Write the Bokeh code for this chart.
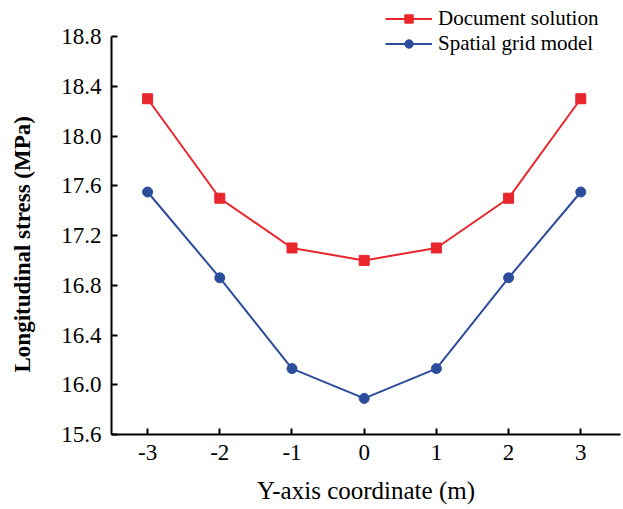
from bokeh.plotting import figure
from bokeh.models import Range1d, FixedTicker, Legend, LegendItem, CustomJSTickFormatter, Title
from bokeh.embed import file_html
from bokeh.resources import INLINE

x_vals = [-3, -2, -1, 0, 1, 2, 3]
doc_solution = [18.3, 17.5, 17.1, 17.0, 17.1, 17.5, 18.3]
grid_model = [17.55, 16.86, 16.13, 15.89, 16.13, 16.86, 17.55]
y_ticks = [15.6, 16.0, 16.4, 16.8, 17.2, 17.6, 18.0, 18.4, 18.8]
series_names = ["Document solution", "Spatial grid model"]

RED = "#e8262b"
BLUE = "#2c4c9c"
FONT = "Liberation Serif"

p = figure(width=622, height=508, output_backend="svg", toolbar_location=None,
           x_range=Range1d(-3.5, 3.55), y_range=Range1d(15.6, 19.09),
           min_border_left=111, min_border_right=2, min_border_top=0, min_border_bottom=74)
p.outline_line_color = None
p.grid.visible = False
p.background_fill_color = "white"
p.border_fill_color = "white"

r1 = p.line(x_vals, doc_solution, line_color=RED, line_width=2)
s1 = p.scatter(x_vals, doc_solution, marker="square", size=10, fill_color=RED, line_color=RED)
r2 = p.line(x_vals, grid_model, line_color=BLUE, line_width=2)
s2 = p.scatter(x_vals, grid_model, marker="circle", size=10, fill_color=BLUE, line_color=BLUE)

p.axis.axis_line_width = 2
p.axis.axis_line_color = "black"
p.axis.major_tick_line_width = 2
p.axis.major_tick_in = 6
p.axis.major_tick_out = 0
p.axis.minor_tick_line_color = None
p.axis.axis_label_text_font = FONT
p.axis.axis_label_text_color = "black"

p.xaxis.ticker = FixedTicker(ticks=x_vals)
p.yaxis.ticker = FixedTicker(ticks=y_ticks)
p.yaxis.bounds = (15.6, 18.8)
p.xaxis.formatter = CustomJSTickFormatter(code="return tick.toString();")
p.yaxis.formatter = CustomJSTickFormatter(code="return tick.toFixed(1);")

p.axis.major_label_text_font = FONT
p.axis.major_label_text_font_size = "23px"
p.axis.major_label_text_color = "black"
p.xaxis.major_label_standoff = 10
p.yaxis.major_label_standoff = 10

p.xaxis.axis_label = "Y-axis coordinate (m)"
p.xaxis.axis_label_text_font_size = "25px"
p.xaxis.axis_label_text_font_style = "normal"
p.xaxis.axis_label_standoff = 14

# blank spacer label pushes the y title further left
p.yaxis.axis_label = " "
p.yaxis.axis_label_text_font_size = "2px"
p.yaxis.axis_label_standoff = 18

ytitle = Title(text="Longitudinal stress (MPa)", align="left", offset=62,
               vertical_align="middle", standoff=0,
               text_font=FONT, text_font_size="23px", text_font_style="bold",
               text_color="black")
p.add_layout(ytitle, "left")

legend = Legend(items=[LegendItem(label=series_names[0], renderers=[r1, s1]),
                       LegendItem(label=series_names[1], renderers=[r2, s2])],
                location=(274, 378), padding=0, margin=0, spacing=0,
                label_height=21, glyph_height=21, glyph_width=47, label_standoff=6,
                label_text_line_height=1.0,
                border_line_alpha=0, background_fill_alpha=0,
                label_text_font=FONT, label_text_font_size="21px", label_text_color="black")
p.add_layout(legend, "center")

open("out.html", "w").write(file_html(p, INLINE))
